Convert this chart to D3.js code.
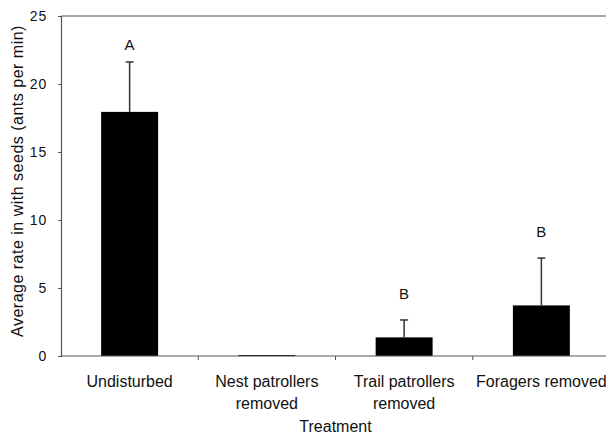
<!DOCTYPE html>
<html>
<head>
<meta charset="utf-8">
<script src="https://cdn.jsdelivr.net/npm/d3@7"></script>
<style>
  html, body { margin: 0; padding: 0; background: #fff; }
  svg { display: block; font-family: "Liberation Sans", Arial, sans-serif; }
</style>
</head>
<body>
<svg id="chart" width="606" height="436"></svg>
<script>
// Seed removal rate by treatment
const categories = [
  ["Undisturbed"],
  ["Nest patrollers", "removed"],
  ["Trail patrollers", "removed"],
  ["Foragers removed"]
];
const means = [17.95, 0.07, 1.37, 3.72];
const errUpper = [21.62, null, 2.65, 7.2];
const groupLetters = ["A", null, "B", "B"];
const letterValues = [22.85, null, 4.55, 9.15];
const yTicks = [0, 5, 10, 15, 20, 25];

const svg = d3.select("#chart");
const plotLeft = 61, plotRight = 610, plotTop = 16, plotBottom = 356;

const x = d3.scaleBand()
  .domain(d3.range(categories.length))
  .range([plotLeft, plotRight])
  .paddingInner(0)
  .paddingOuter(0);

const y = d3.scaleLinear().domain([0, 25]).range([plotBottom, plotTop]);

const barW = x.bandwidth() * 0.415;
const ink = "#111";
const axisCol = "#555";

// Top frame line
svg.append("line")
  .attr("x1", plotLeft).attr("x2", 606)
  .attr("y1", y(25)).attr("y2", y(25))
  .attr("stroke", axisCol).attr("stroke-width", 1.2);

// Bars
svg.selectAll("rect.bar")
  .data(means)
  .join("rect")
  .attr("class", "bar")
  .attr("x", (d, i) => x(i) + x.bandwidth() / 2 - barW / 2)
  .attr("width", barW)
  .attr("y", d => y(d))
  .attr("height", d => Math.max(1, y(0) - y(d)))
  .attr("fill", "#000");

// Upper error whiskers with caps
const errs = means.map((m, i) => ({ i, m, e: errUpper[i] })).filter(d => d.e != null);
svg.selectAll("line.err")
  .data(errs)
  .join("line")
  .attr("class", "err")
  .attr("x1", d => x(d.i) + x.bandwidth() / 2)
  .attr("x2", d => x(d.i) + x.bandwidth() / 2)
  .attr("y1", d => y(d.m))
  .attr("y2", d => y(d.e))
  .attr("stroke", "#333").attr("stroke-width", 1.5);
svg.selectAll("line.cap")
  .data(errs)
  .join("line")
  .attr("class", "cap")
  .attr("x1", d => x(d.i) + x.bandwidth() / 2 - 4)
  .attr("x2", d => x(d.i) + x.bandwidth() / 2 + 4)
  .attr("y1", d => y(d.e))
  .attr("y2", d => y(d.e))
  .attr("stroke", "#333").attr("stroke-width", 1.5);

// Significance letters
svg.selectAll("text.letter")
  .data(groupLetters.map((t, i) => ({ t, i, v: letterValues[i] })).filter(d => d.t))
  .join("text")
  .attr("class", "letter")
  .attr("x", d => x(d.i) + x.bandwidth() / 2)
  .attr("y", d => y(d.v))
  .attr("dy", "0.35em")
  .attr("text-anchor", "middle")
  .attr("font-size", 15)
  .attr("fill", ink)
  .text(d => d.t);

// Y axis
const yAxis = d3.axisLeft(y).tickValues(yTicks).tickSize(3).tickPadding(11);
const gy = svg.append("g").attr("transform", `translate(${plotLeft},0)`).call(yAxis);
gy.select(".domain").attr("stroke", axisCol).attr("stroke-width", 1.2);
gy.selectAll(".tick line").attr("stroke", axisCol);
gy.selectAll(".tick text")
  .attr("font-size", 14)
  .attr("font-family", "Liberation Sans, Arial, sans-serif")
  .attr("letter-spacing", "0.8px")
  .attr("fill", ink);

// X axis: boundary ticks between categories
const xAxisLine = svg.append("g");
xAxisLine.append("line")
  .attr("x1", plotLeft).attr("x2", 606)
  .attr("y1", plotBottom).attr("y2", plotBottom)
  .attr("stroke", axisCol).attr("stroke-width", 1.2);
xAxisLine.selectAll("line.xt")
  .data(d3.range(1, categories.length))
  .join("line")
  .attr("class", "xt")
  .attr("x1", i => x(i)).attr("x2", i => x(i))
  .attr("y1", plotBottom).attr("y2", plotBottom + 4)
  .attr("stroke", axisCol);

// Category labels
const labels = svg.selectAll("text.cat")
  .data(categories)
  .join("text")
  .attr("class", "cat")
  .attr("text-anchor", "middle")
  .attr("font-size", 16)
  .attr("fill", ink)
  .attr("x", (d, i) => x(i) + x.bandwidth() / 2)
  .attr("y", 387);
labels.selectAll("tspan")
  .data(d => d)
  .join("tspan")
  .attr("x", function () { return d3.select(this.parentNode).attr("x"); })
  .attr("dy", (d, j) => j === 0 ? 0 : 21.5)
  .text(d => d);

// Axis titles
svg.append("text")
  .attr("x", (plotLeft + plotRight) / 2)
  .attr("y", 432)
  .attr("text-anchor", "middle")
  .attr("font-size", 16)
  .attr("fill", ink)
  .text("Treatment");

svg.append("text")
  .attr("transform", `translate(23,181) rotate(-90)`)
  .attr("text-anchor", "middle")
  .attr("font-size", 16)
  .attr("letter-spacing", "0.5px")
  .attr("fill", ink)
  .text("Average rate in with seeds (ants per min)");
</script>
</body>
</html>
